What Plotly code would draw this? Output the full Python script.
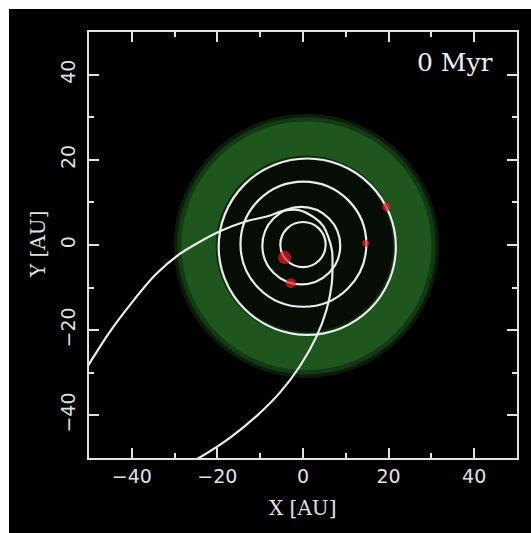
import plotly.graph_objects as go

# ---- data (AU) ----
orbit_cx = [0.0, -0.4, 0.1, 1.0]
orbit_cy = [0.1, -0.15, 0.2, -0.4]
orbit_r = [5.3, 9.1, 14.7, 20.7]

ecc_x = [-51.0, -49.6, -45.3, -39.9, -34.5, -29.1, -24.4, -19.0, -13.6, -8.1, -4.6, -1.0,
         2.4, 4.7, 5.9, 6.8, 6.9, 6.7, 5.5, 3.2, -0.7, -5.35, -10.8, -17.0, -24.0, -26.5]
ecc_y = [-29.6, -27.3, -20.6, -13.4, -7.0, -2.3, 0.6, 3.4, 5.45, 6.8, 8.0, 8.2,
         6.6, 4.5, 1.9, -1.5, -4.3, -9.3, -15.2, -21.4, -28.4, -34.6, -40.1, -45.2, -49.8, -51.2]

planet_x = [-4.3, -2.8, 14.65, 19.5]
planet_y = [-2.95, -8.95, 0.4, 8.9]
planet_size = [13, 10, 7, 8]

disk_cx = 0.8
disk_cy = -0.2
disk_r = [31.0, 30.2, 29.2, 21.2, 20.2]
disk_fill = ["rgb(10,28,10)", "rgb(20,58,20)", "rgb(30,86,30)", "rgb(16,44,16)", "rgb(5,13,5)"]

tick_vals = [-40, -20, 0, 20, 40]
tick_text = ["\u221240", "\u221220", "0", "20", "40"]
time_label = "0 Myr"

FG = "#e2e2e2"
ORB = "#ececec"

fig = go.Figure()

shapes = []
for r, c in zip(disk_r, disk_fill):
    shapes.append(dict(type="circle", xref="x", yref="y", layer="below",
                       x0=disk_cx - r, x1=disk_cx + r, y0=disk_cy - r, y1=disk_cy + r,
                       fillcolor=c, line=dict(width=0)))
for cx, cy, r in zip(orbit_cx, orbit_cy, orbit_r):
    shapes.append(dict(type="circle", xref="x", yref="y", layer="below",
                       x0=cx - r, x1=cx + r, y0=cy - r, y1=cy + r,
                       fillcolor="rgba(0,0,0,0)", line=dict(color=ORB, width=2.2)))

fig.add_trace(go.Scatter(x=ecc_x, y=ecc_y, mode="lines",
                         line=dict(color=ORB, width=2.2, shape="spline", smoothing=0.8),
                         hoverinfo="skip", showlegend=False))
fig.add_trace(go.Scatter(x=planet_x, y=planet_y, mode="markers",
                         marker=dict(color="rgb(232,28,38)", size=planet_size, line=dict(width=0)),
                         showlegend=False))

axis_common = dict(
    range=[-50, 50], showgrid=False, zeroline=False,
    showline=True, linecolor=FG, linewidth=2, mirror="ticks",
    ticks="inside", ticklen=10, tickwidth=2, tickcolor=FG,
    tickvals=tick_vals, ticktext=tick_text,
    tickfont=dict(family="DejaVu Sans", size=19, color=FG),
    minor=dict(ticks="inside", ticklen=5, tickwidth=2, tickcolor=FG, dtick=10, tick0=0, showgrid=False),
)

fig.update_layout(
    width=560, height=560,
    margin=dict(l=80, r=52, t=23, b=111),
    paper_bgcolor="black", plot_bgcolor="black",
    shapes=shapes,
    xaxis=dict(**axis_common),
    yaxis=dict(**axis_common, tickangle=-90, ticklabelstandoff=4),
    annotations=[
        dict(text="X [AU]", xref="paper", yref="paper", x=0.5, y=0, xanchor="center", yanchor="middle",
             yshift=-50, showarrow=False, font=dict(family="DejaVu Serif", size=20, color=FG)),
        dict(text="Y [AU]", xref="paper", yref="paper", x=0, y=0.5, xanchor="center", yanchor="middle",
             xshift=-51, textangle=-90, showarrow=False, font=dict(family="DejaVu Serif", size=20, color=FG)),
        dict(text=time_label, xref="x", yref="y", x=35.6, y=42.9, xanchor="center", yanchor="middle",
             showarrow=False, font=dict(family="DejaVu Serif", size=25, color="#f0f0f0")),
    ],
)

fig.write_html(
    "out.html", config={"displayModeBar": False},
    post_script=(
        "document.documentElement.style.background='white';"
        "document.body.style.background='black';"
        "document.body.style.margin='9px 0 0 9px';"
        "document.body.style.minHeight='calc(100vh - 9px)';"
        "document.body.style.overflow='hidden';"
    ),
)
